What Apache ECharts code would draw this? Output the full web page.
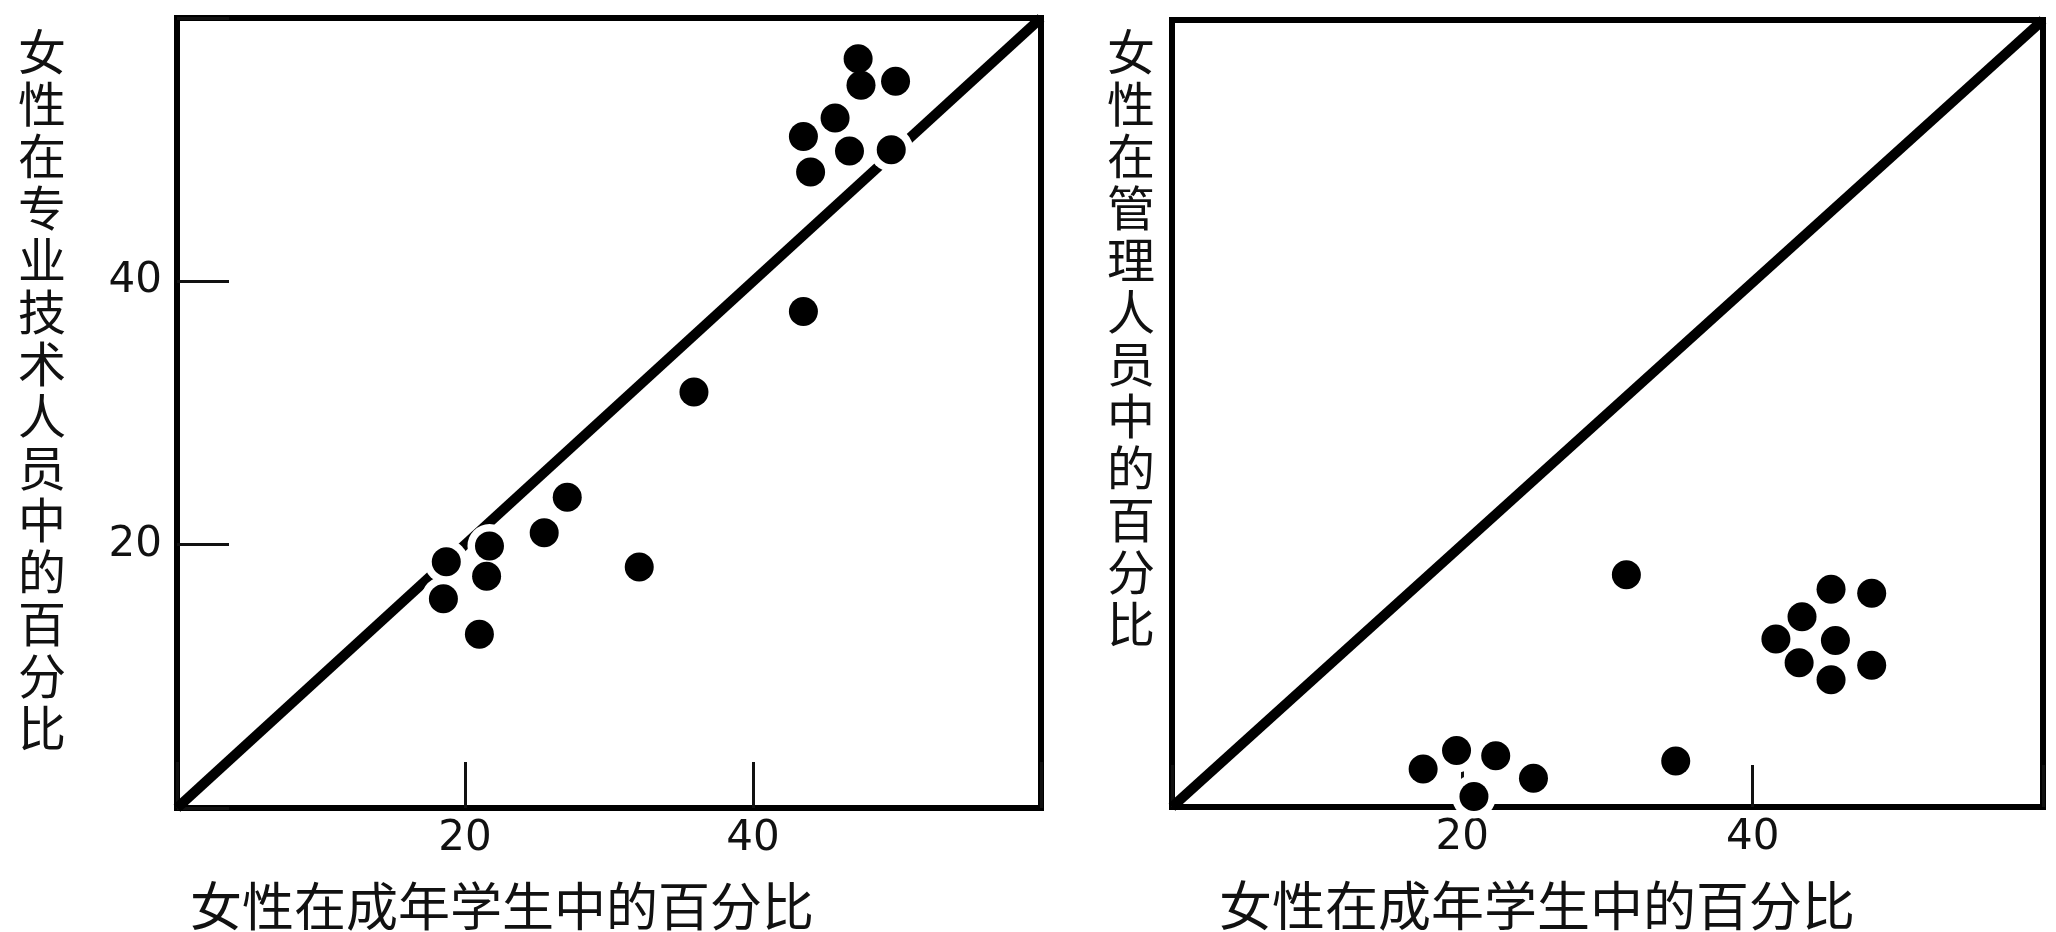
<!DOCTYPE html>
<html>
<head>
<meta charset="utf-8">
<script src="https://cdn.jsdelivr.net/npm/echarts@6/dist/echarts.min.js"></script>
<style>
html, body { margin: 0; padding: 0; background: #fff; }
#chart { width: 2056px; height: 932px; }
</style>
</head>
<body>
<div id="chart"></div>
<script>
// 左图：女性在专业技术人员中的百分比
const proStudents = [47.3, 49.9, 47.5, 45.7, 43.5, 46.7, 49.6, 44.0, 43.5, 35.9, 27.1, 25.5, 21.7, 18.7, 21.5, 18.5, 21.0, 32.1];
const proStaff = [56.9, 55.2, 54.9, 52.4, 51.0, 49.9, 50.0, 48.3, 37.7, 31.6, 23.6, 20.9, 19.9, 18.7, 17.6, 15.9, 13.2, 18.3];
// 右图：女性在管理人员中的百分比
const mgrStudents = [31.3, 45.4, 48.2, 43.4, 41.6, 45.7, 43.2, 48.2, 45.4, 17.3, 19.6, 22.3, 24.9, 20.8, 34.7];
const mgrStaff = [17.7, 16.6, 16.3, 14.5, 12.8, 12.7, 11.0, 10.8, 9.7, 2.9, 4.3, 3.9, 2.2, 0.8, 3.5];
// 对角线 (x = y)
const equalLine = [0, 60];
const tickValues = [20, 40];

const xName = '女性在成年学生中的百分比';
const proName = '女性在专业技术人员中的百分比';
const mgrName = '女性在管理人员中的百分比';

let chart = echarts.init(document.getElementById('chart'));

const pairs = (xs, ys) => xs.map((x, i) => [x, ys[i]]);
const vertical = s => s.split('').join('\n');
const cjk = '"Noto Sans CJK SC", sans-serif';
const tickLabel = v => tickValues.includes(v) ? String(v) : '';

function xAxisFor(gridIndex, tickLen, padRight, size) {
    return {
        type: 'value',
        gridIndex: gridIndex,
        min: equalLine[0],
        max: equalLine[1],
        interval: 20,
        name: xName,
        nameLocation: 'middle',
        nameGap: 72,
        nameMoveOverlap: false,
        nameTextStyle: {
            fontFamily: cjk,
            fontSize: size,
            color: '#111',
            padding: [0, padRight, 0, 0]
        },
        axisLine: { show: false },
        splitLine: { show: false },
        axisTick: {
            inside: true,
            length: tickLen,
            lineStyle: { color: '#111', width: 3 }
        },
        axisLabel: {
            margin: 10,
            fontFamily: 'DejaVu Sans',
            fontSize: 42,
            color: '#111',
            formatter: tickLabel
        }
    };
}

function scatterFor(index, data) {
    return [
        {
            // 白色光晕，让点附近的线断开
            type: 'scatter',
            xAxisIndex: index,
            yAxisIndex: index,
            data: data,
            symbolSize: 44,
            itemStyle: { color: '#fff', opacity: 1 },
            clip: false,
            silent: true,
            z: 3
        },
        {
            type: 'scatter',
            xAxisIndex: index,
            yAxisIndex: index,
            data: data,
            symbolSize: 29,
            itemStyle: { color: '#000', opacity: 1 },
            clip: false,
            z: 4
        }
    ];
}

function diagonalFor(index) {
    return {
        type: 'line',
        xAxisIndex: index,
        yAxisIndex: index,
        data: pairs(equalLine, equalLine),
        symbol: 'none',
        lineStyle: { color: '#000', width: 10 },
        z: 2
    };
}

let option = {
    backgroundColor: '#fff',
    animation: false,
    grid: [
        { left: 177, top: 18, width: 864, height: 790, outerBoundsMode: 'none', containLabel: false, show: true, borderColor: '#000', borderWidth: 6 },
        { left: 1172, top: 20, width: 871, height: 787, outerBoundsMode: 'none', containLabel: false, show: true, borderColor: '#000', borderWidth: 6 }
    ],
    xAxis: [
        xAxisFor(0, 46, 214, 52),
        xAxisFor(1, 42, 141, 53)
    ],
    yAxis: [
        {
            type: 'value',
            gridIndex: 0,
            min: equalLine[0],
            max: equalLine[1],
            interval: 20,
            name: vertical(proName),
            nameLocation: 'end',
            nameGap: -8,
            nameMoveOverlap: false,
            nameTextStyle: {
                fontFamily: cjk,
                fontSize: 48,
                lineHeight: 52,
                color: '#111',
                align: 'right',
                verticalAlign: 'top',
                padding: [0, 111, 0, 0]
            },
            axisLine: { show: false },
            splitLine: { show: false },
            axisTick: {
                inside: true,
                length: 52,
                lineStyle: { color: '#111', width: 3 }
            },
            axisLabel: {
                margin: 15,
                fontFamily: 'DejaVu Sans',
                fontSize: 42,
                color: '#111',
                formatter: tickLabel
            }
        },
        {
            type: 'value',
            gridIndex: 1,
            min: equalLine[0],
            max: equalLine[1],
            interval: 20,
            name: vertical(mgrName),
            nameLocation: 'end',
            nameGap: -6,
            nameMoveOverlap: false,
            nameTextStyle: {
                fontFamily: cjk,
                fontSize: 48,
                lineHeight: 52,
                color: '#111',
                align: 'right',
                verticalAlign: 'top',
                padding: [0, 17, 0, 0]
            },
            axisLine: { show: false },
            splitLine: { show: false },
            axisTick: { show: false },
            axisLabel: { show: false }
        }
    ],
    series: [
        diagonalFor(0),
        ...scatterFor(0, pairs(proStudents, proStaff)),
        diagonalFor(1),
        ...scatterFor(1, pairs(mgrStudents, mgrStaff))
    ]
};

chart.setOption(option);
</script>
</body>
</html>
